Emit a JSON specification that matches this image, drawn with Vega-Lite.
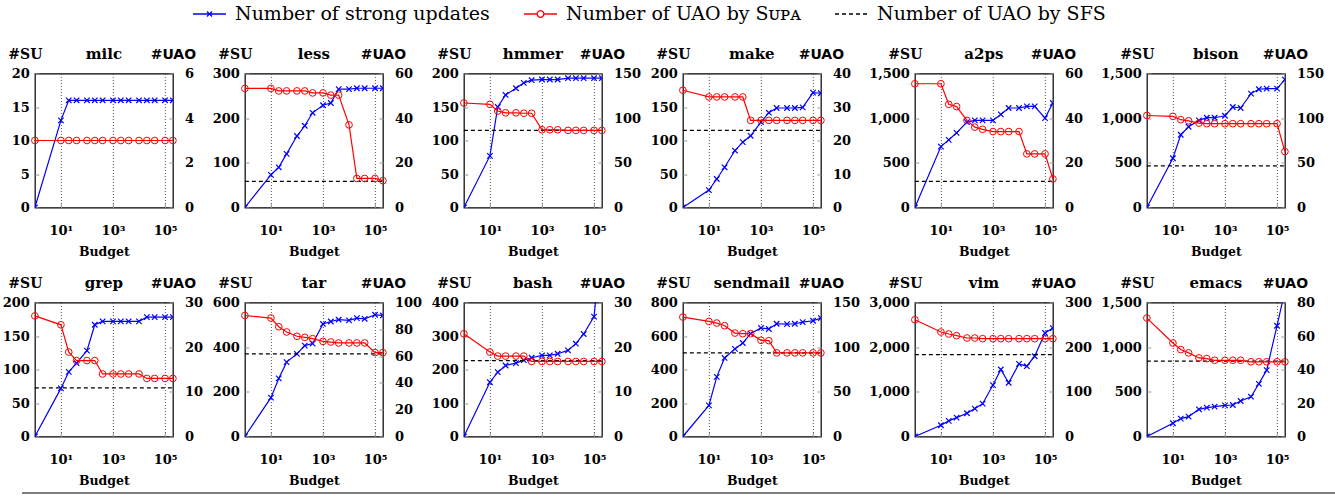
{
"$schema":"https://vega.github.io/schema/vega-lite/v6.json",
"padding":{"left":1,"top":3,"right":0,"bottom":0},
"datasets":{"d":[
{"b":"milc","x":1,"su":0,"u":3,"f":3},{"b":"milc","x":10,"su":13,"u":3,"f":3},{"b":"milc","x":20,"su":16,"u":3,"f":3},{"b":"milc","x":40,"su":16,"u":3,"f":3},{"b":"milc","x":100,"su":16,"u":3,"f":3},{"b":"milc","x":200,"su":16,"u":3,"f":3},{"b":"milc","x":400,"su":16,"u":3,"f":3},{"b":"milc","x":1000,"su":16,"u":3,"f":3},{"b":"milc","x":2000,"su":16,"u":3,"f":3},{"b":"milc","x":4000,"su":16,"u":3,"f":3},{"b":"milc","x":10000,"su":16,"u":3,"f":3},{"b":"milc","x":20000,"su":16,"u":3,"f":3},{"b":"milc","x":40000,"su":16,"u":3,"f":3},{"b":"milc","x":100000,"su":16,"u":3,"f":3},{"b":"milc","x":200000,"su":16,"u":3,"f":3},
{"b":"less","x":1,"su":0,"u":53.3,"f":11.7},{"b":"less","x":10,"su":73,"u":53.3,"f":11.7},{"b":"less","x":20,"su":90,"u":52.2,"f":11.7},{"b":"less","x":40,"su":120,"u":52.2,"f":11.7},{"b":"less","x":100,"su":160,"u":52.2,"f":11.7},{"b":"less","x":200,"su":183,"u":52.2,"f":11.7},{"b":"less","x":400,"su":212,"u":51.3,"f":11.7},{"b":"less","x":1000,"su":229,"u":51.3,"f":11.7},{"b":"less","x":2000,"su":234,"u":50.3,"f":11.7},{"b":"less","x":4000,"su":265,"u":50.3,"f":11.7},{"b":"less","x":10000,"su":265,"u":37,"f":11.7},{"b":"less","x":20000,"su":267,"u":13,"f":11.7},{"b":"less","x":40000,"su":267,"u":13,"f":11.7},{"b":"less","x":100000,"su":267,"u":13,"f":11.7},{"b":"less","x":200000,"su":267,"u":12,"f":11.7},
{"b":"hmmer","x":1,"su":0,"u":117,"f":86.3},{"b":"hmmer","x":10,"su":77,"u":115.5,"f":86.3},{"b":"hmmer","x":20,"su":150,"u":108,"f":86.3},{"b":"hmmer","x":40,"su":168,"u":106,"f":86.3},{"b":"hmmer","x":100,"su":178,"u":106,"f":86.3},{"b":"hmmer","x":200,"su":186,"u":105.5,"f":86.3},{"b":"hmmer","x":400,"su":190,"u":105.5,"f":86.3},{"b":"hmmer","x":1000,"su":191,"u":87,"f":86.3},{"b":"hmmer","x":2000,"su":191,"u":87,"f":86.3},{"b":"hmmer","x":4000,"su":191,"u":87,"f":86.3},{"b":"hmmer","x":10000,"su":193,"u":86.3,"f":86.3},{"b":"hmmer","x":20000,"su":193,"u":86.3,"f":86.3},{"b":"hmmer","x":40000,"su":193,"u":86.3,"f":86.3},{"b":"hmmer","x":100000,"su":193,"u":86.3,"f":86.3},{"b":"hmmer","x":200000,"su":193,"u":86.3,"f":86.3},
{"b":"make","x":1,"su":0,"u":35,"f":23},{"b":"make","x":10,"su":26,"u":33,"f":23},{"b":"make","x":20,"su":42.5,"u":33,"f":23},{"b":"make","x":40,"su":60,"u":33,"f":23},{"b":"make","x":100,"su":85,"u":33,"f":23},{"b":"make","x":200,"su":97.5,"u":33,"f":23},{"b":"make","x":400,"su":107,"u":26,"f":23},{"b":"make","x":1000,"su":127.5,"u":26,"f":23},{"b":"make","x":2000,"su":141.5,"u":26,"f":23},{"b":"make","x":4000,"su":148.5,"u":26,"f":23},{"b":"make","x":10000,"su":148.5,"u":26,"f":23},{"b":"make","x":20000,"su":148.5,"u":26,"f":23},{"b":"make","x":40000,"su":149.5,"u":26,"f":23},{"b":"make","x":100000,"su":171.5,"u":26,"f":23},{"b":"make","x":200000,"su":170.5,"u":26,"f":23},
{"b":"a2ps","x":1,"su":0,"u":55.4,"f":11.7},{"b":"a2ps","x":10,"su":682,"u":55.4,"f":11.7},{"b":"a2ps","x":20,"su":757,"u":46.2,"f":11.7},{"b":"a2ps","x":40,"su":836,"u":45.2,"f":11.7},{"b":"a2ps","x":100,"su":956,"u":39,"f":11.7},{"b":"a2ps","x":200,"su":975,"u":36,"f":11.7},{"b":"a2ps","x":400,"su":975,"u":35,"f":11.7},{"b":"a2ps","x":1000,"su":975,"u":34,"f":11.7},{"b":"a2ps","x":2000,"su":1042,"u":34,"f":11.7},{"b":"a2ps","x":4000,"su":1114,"u":34,"f":11.7},{"b":"a2ps","x":10000,"su":1114,"u":34,"f":11.7},{"b":"a2ps","x":20000,"su":1132,"u":24,"f":11.7},{"b":"a2ps","x":40000,"su":1132,"u":24,"f":11.7},{"b":"a2ps","x":100000,"su":1001,"u":24,"f":11.7},{"b":"a2ps","x":200000,"su":1170,"u":12.8,"f":11.7},
{"b":"bison","x":1,"su":0,"u":103,"f":46.5},{"b":"bison","x":10,"su":551,"u":102,"f":46.5},{"b":"bison","x":20,"su":814,"u":98.3,"f":46.5},{"b":"bison","x":40,"su":904,"u":97,"f":46.5},{"b":"bison","x":100,"su":975,"u":94.5,"f":46.5},{"b":"bison","x":200,"su":1005,"u":93.8,"f":46.5},{"b":"bison","x":400,"su":1005,"u":93.8,"f":46.5},{"b":"bison","x":1000,"su":1027,"u":93.8,"f":46.5},{"b":"bison","x":2000,"su":1125,"u":93.8,"f":46.5},{"b":"bison","x":4000,"su":1114,"u":93.8,"f":46.5},{"b":"bison","x":10000,"su":1275,"u":93.8,"f":46.5},{"b":"bison","x":20000,"su":1324,"u":93.8,"f":46.5},{"b":"bison","x":40000,"su":1331,"u":93.8,"f":46.5},{"b":"bison","x":100000,"su":1331,"u":93.8,"f":46.5},{"b":"bison","x":200000,"su":1432,"u":62.6,"f":46.5},
{"b":"grep","x":1,"su":0,"u":27,"f":10.9},{"b":"grep","x":10,"su":71.8,"u":25,"f":10.9},{"b":"grep","x":20,"su":96.5,"u":18.9,"f":10.9},{"b":"grep","x":40,"su":109.4,"u":17,"f":10.9},{"b":"grep","x":100,"su":128.2,"u":17,"f":10.9},{"b":"grep","x":200,"su":166.8,"u":17,"f":10.9},{"b":"grep","x":400,"su":171.8,"u":14,"f":10.9},{"b":"grep","x":1000,"su":171.8,"u":14,"f":10.9},{"b":"grep","x":2000,"su":171.8,"u":14,"f":10.9},{"b":"grep","x":4000,"su":171.8,"u":14,"f":10.9},{"b":"grep","x":10000,"su":171.8,"u":14,"f":10.9},{"b":"grep","x":20000,"su":178.2,"u":13,"f":10.9},{"b":"grep","x":40000,"su":178.2,"u":13,"f":10.9},{"b":"grep","x":100000,"su":178.2,"u":13,"f":10.9},{"b":"grep","x":200000,"su":178.2,"u":13,"f":10.9},
{"b":"tar","x":1,"su":0,"u":90.3,"f":61.6},{"b":"tar","x":10,"su":174,"u":88.4,"f":61.6},{"b":"tar","x":20,"su":260,"u":81.9,"f":61.6},{"b":"tar","x":40,"su":333,"u":78,"f":61.6},{"b":"tar","x":100,"su":370,"u":74.8,"f":61.6},{"b":"tar","x":200,"su":407,"u":74,"f":61.6},{"b":"tar","x":400,"su":416,"u":73,"f":61.6},{"b":"tar","x":1000,"su":504,"u":71,"f":61.6},{"b":"tar","x":2000,"su":515,"u":70.5,"f":61.6},{"b":"tar","x":4000,"su":523,"u":69.8,"f":61.6},{"b":"tar","x":10000,"su":520,"u":69.8,"f":61.6},{"b":"tar","x":20000,"su":530,"u":69.8,"f":61.6},{"b":"tar","x":40000,"su":527,"u":69.8,"f":61.6},{"b":"tar","x":100000,"su":545,"u":62.6,"f":61.6},{"b":"tar","x":200000,"su":542,"u":62.6,"f":61.6},
{"b":"bash","x":1,"su":0,"u":23,"f":17},{"b":"bash","x":10,"su":162,"u":18.9,"f":17},{"b":"bash","x":20,"su":192,"u":18,"f":17},{"b":"bash","x":40,"su":212,"u":18,"f":17},{"b":"bash","x":100,"su":219,"u":18,"f":17},{"b":"bash","x":200,"su":228,"u":18,"f":17},{"b":"bash","x":400,"su":235,"u":16.8,"f":17},{"b":"bash","x":1000,"su":242,"u":16.8,"f":17},{"b":"bash","x":2000,"su":242,"u":16.8,"f":17},{"b":"bash","x":4000,"su":247,"u":16.8,"f":17},{"b":"bash","x":10000,"su":257,"u":16.8,"f":17},{"b":"bash","x":20000,"su":277,"u":16.8,"f":17},{"b":"bash","x":40000,"su":306,"u":16.8,"f":17},{"b":"bash","x":100000,"su":358,"u":16.8,"f":17},{"b":"bash","x":200000,"su":590,"u":16.8,"f":17},
{"b":"sendmail","x":1,"su":0,"u":133.7,"f":93.6},{"b":"sendmail","x":10,"su":186,"u":128.8,"f":93.6},{"b":"sendmail","x":20,"su":356,"u":127,"f":93.6},{"b":"sendmail","x":40,"su":469,"u":124,"f":93.6},{"b":"sendmail","x":100,"su":523,"u":115.8,"f":93.6},{"b":"sendmail","x":200,"su":558,"u":115.1,"f":93.6},{"b":"sendmail","x":400,"su":614,"u":115.1,"f":93.6},{"b":"sendmail","x":1000,"su":648,"u":107.7,"f":93.6},{"b":"sendmail","x":2000,"su":642,"u":107.3,"f":93.6},{"b":"sendmail","x":4000,"su":673,"u":93.6,"f":93.6},{"b":"sendmail","x":10000,"su":671,"u":93.6,"f":93.6},{"b":"sendmail","x":20000,"su":673,"u":93.6,"f":93.6},{"b":"sendmail","x":40000,"su":683,"u":93.6,"f":93.6},{"b":"sendmail","x":100000,"su":691,"u":93.6,"f":93.6},{"b":"sendmail","x":200000,"su":707,"u":93.6,"f":93.6},
{"b":"vim","x":1,"su":0,"u":261.4,"f":183.4},{"b":"vim","x":10,"su":252,"u":233.9,"f":183.4},{"b":"vim","x":20,"su":349,"u":229.5,"f":183.4},{"b":"vim","x":40,"su":423,"u":225.7,"f":183.4},{"b":"vim","x":100,"su":520,"u":220.5,"f":183.4},{"b":"vim","x":200,"su":624,"u":220.5,"f":183.4},{"b":"vim","x":400,"su":735,"u":219,"f":183.4},{"b":"vim","x":1000,"su":1151,"u":219,"f":183.4},{"b":"vim","x":2000,"su":1500,"u":219,"f":183.4},{"b":"vim","x":4000,"su":1203,"u":219,"f":183.4},{"b":"vim","x":10000,"su":1626,"u":219,"f":183.4},{"b":"vim","x":20000,"su":1574,"u":219,"f":183.4},{"b":"vim","x":40000,"su":1797,"u":219,"f":183.4},{"b":"vim","x":100000,"su":2317,"u":219,"f":183.4},{"b":"vim","x":200000,"su":2428,"u":219,"f":183.4},
{"b":"emacs","x":1,"su":0,"u":70.7,"f":45},{"b":"emacs","x":10,"su":148.5,"u":55.8,"f":45},{"b":"emacs","x":20,"su":200.5,"u":51.9,"f":45},{"b":"emacs","x":40,"su":222.8,"u":49.9,"f":45},{"b":"emacs","x":100,"su":304.5,"u":46.9,"f":45},{"b":"emacs","x":200,"su":323,"u":46.5,"f":45},{"b":"emacs","x":400,"su":334,"u":45.5,"f":45},{"b":"emacs","x":1000,"su":349,"u":45.5,"f":45},{"b":"emacs","x":2000,"su":352.7,"u":45.5,"f":45},{"b":"emacs","x":4000,"su":397.3,"u":45.5,"f":45},{"b":"emacs","x":10000,"su":445.5,"u":44.6,"f":45},{"b":"emacs","x":20000,"su":590,"u":44.6,"f":45},{"b":"emacs","x":40000,"su":742.6,"u":44.6,"f":45},{"b":"emacs","x":100000,"su":1240,"u":44.6,"f":45},{"b":"emacs","x":200000,"su":1630,"u":44.6,"f":45}
]},
"data":{"name":"d"},
"config":{
"numberFormat":",.0f",
"view":{"stroke":"#000000","strokeWidth":1.2},
"axis":{"labelFont":"DejaVu Serif","labelFontWeight":"bold","labelFontSize":13,"labelColor":"#000000","domain":false,"ticks":true,"tickSize":-4,"tickColor":"#999999","titleFont":"DejaVu Serif","titleFontWeight":"bold","titleColor":"#000000","labelFlush":false,"labelOverlap":false},
"axisX":{"grid":true,"gridDash":[1,2],"gridColor":"#555555","gridWidth":1,"labelPadding":31,"labelBaseline":"alphabetic","titleFontSize":12.5,"titleX":69,"titleY":48,"titleBaseline":"alphabetic","titleAlign":"center"},
"axisY":{"grid":false,"titleAngle":0,"titleAlign":"center","titleBaseline":"alphabetic","titleY":-15,"titleFontSize":14},
"axisLeft":{"labelPadding":9.5,"titleX":-10},
"axisRight":{"labelPadding":15.5,"titleX":0,"titleFont":"DejaVu Sans"},
"title":{"font":"DejaVu Serif","fontSize":15,"fontWeight":"bold","baseline":"alphabetic","offset":-14,"frame":"group","anchor":"middle","color":"#000000"}
},
"spacing":4.5,
"center":true,
"vconcat":[
{"spacing":21.5,"center":false,"vconcat":[
{"width":1,"height":21,"view":{"stroke":null},
"data":{"values":[{"s":"Number of strong updates"},{"s":"Number of UAO by Sᴜᴘᴀ"},{"s":"Number of UAO by SFS"}]},
"mark":{"type":"point","filled":false,"opacity":0},
"encoding":{
"stroke":{"field":"s","type":"nominal","scale":{"domain":["Number of strong updates","Number of UAO by Sᴜᴘᴀ","Number of UAO by SFS"],"range":["#0000ff","#ff0000","#000000"]},
"legend":{"orient":"none","legendX":176.5,"legendY":0,"direction":"horizontal","title":null,"padding":0,"symbolSize":400,"symbolStrokeWidth":1.3,"symbolOpacity":1,"labelFont":"DejaVu Serif","labelFontSize":19,"labelFontWeight":"normal","labelColor":"#000000","labelOffset":14.5,"columnPadding":30,"labelLimit":500,"encode":{"symbols":{"update":{"opacity":{"value":1},"fill":{"value":"transparent"}}}}}},
"shape":{"field":"s","type":"nominal","scale":{"domain":["Number of strong updates","Number of UAO by Sᴜᴘᴀ","Number of UAO by SFS"],"range":["M-1.65,0L1.65,0M-0.25,-0.25L0.25,0.25M-0.25,0.25L0.25,-0.25","M-1.65,0L-0.33,0M0.33,0L1.65,0M0.33,0A0.33,0.33 0 1,1 -0.33,0A0.33,0.33 0 1,1 0.33,0","M-1.65,0L1.65,0"]},
"legend":{"orient":"none","legendX":176.5,"legendY":0,"direction":"horizontal","title":null,"padding":0,"symbolSize":400,"symbolStrokeWidth":1.3,"symbolOpacity":1,"labelFont":"DejaVu Serif","labelFontSize":19,"labelFontWeight":"normal","labelColor":"#000000","labelOffset":14.5,"columnPadding":30,"labelLimit":500}},
"strokeDash":{"field":"s","type":"nominal","scale":{"domain":["Number of strong updates","Number of UAO by Sᴜᴘᴀ","Number of UAO by SFS"],"range":[[1,0],[1,0],[4,3]]},
"legend":{"orient":"none","legendX":176.5,"legendY":0,"direction":"horizontal","title":null,"padding":0,"symbolSize":400,"symbolStrokeWidth":1.3,"symbolOpacity":1,"labelFont":"DejaVu Serif","labelFontSize":19,"labelFontWeight":"normal","labelColor":"#000000","labelOffset":14.5,"columnPadding":30,"labelLimit":500}}
}},
{"columns":6,"align":"each","bounds":"full","center":false,"spacing":{"row":15,"column":7},"concat":[
{"title":"milc","width":138,"height":134,"transform":[{"filter":"datum.b=='milc'"}],"encoding":{"x":{"field":"x","type":"quantitative","scale":{"type":"log","domain":[1,200000],"nice":false},"axis":{"values":[10,1000,100000],"labelExpr":"datum.value==10?'10¹':datum.value==1000?'10³':'10⁵'","title":"Budget"}}},"layer":[{"encoding":{"y":{"field":"su","type":"quantitative","scale":{"domain":[0,20],"nice":false},"axis":{"orient":"left","title":"#SU","values":[0,5,10,15,20]}}},"layer":[{"mark":{"type":"line","color":"#0000ff","strokeWidth":1.2,"clip":true}},{"mark":{"type":"point","shape":"M-1,-1L1,1M-1,1L1,-1","filled":false,"color":"#0000ff","strokeWidth":1.2,"size":30,"opacity":1,"clip":true}}]},{"encoding":{"y":{"field":"u","type":"quantitative","scale":{"domain":[0,6],"nice":false},"axis":{"orient":"right","title":"#UAO","values":[0,2,4,6]}}},"layer":[{"mark":{"type":"line","color":"#000000","strokeDash":[4,3],"strokeWidth":1.2},"encoding":{"y":{"field":"f","type":"quantitative","scale":{"domain":[0,6],"nice":false},"axis":{"orient":"right","title":"#UAO","values":[0,2,4,6]}}}},{"mark":{"type":"line","color":"#ff0000","strokeWidth":1.2}},{"mark":{"type":"point","shape":"circle","filled":false,"color":"#ff0000","strokeWidth":1,"size":45,"opacity":1}}]}],"resolve":{"scale":{"y":"independent"}}},
{"title":"less","width":138,"height":134,"transform":[{"filter":"datum.b=='less'"}],"encoding":{"x":{"field":"x","type":"quantitative","scale":{"type":"log","domain":[1,200000],"nice":false},"axis":{"values":[10,1000,100000],"labelExpr":"datum.value==10?'10¹':datum.value==1000?'10³':'10⁵'","title":"Budget"}}},"layer":[{"encoding":{"y":{"field":"su","type":"quantitative","scale":{"domain":[0,300],"nice":false},"axis":{"orient":"left","title":"#SU","values":[0,100,200,300]}}},"layer":[{"mark":{"type":"line","color":"#0000ff","strokeWidth":1.2,"clip":true}},{"mark":{"type":"point","shape":"M-1,-1L1,1M-1,1L1,-1","filled":false,"color":"#0000ff","strokeWidth":1.2,"size":30,"opacity":1,"clip":true}}]},{"encoding":{"y":{"field":"u","type":"quantitative","scale":{"domain":[0,60],"nice":false},"axis":{"orient":"right","title":"#UAO","values":[0,20,40,60]}}},"layer":[{"mark":{"type":"line","color":"#000000","strokeDash":[4,3],"strokeWidth":1.2},"encoding":{"y":{"field":"f","type":"quantitative","scale":{"domain":[0,60],"nice":false},"axis":{"orient":"right","title":"#UAO","values":[0,20,40,60]}}}},{"mark":{"type":"line","color":"#ff0000","strokeWidth":1.2}},{"mark":{"type":"point","shape":"circle","filled":false,"color":"#ff0000","strokeWidth":1,"size":45,"opacity":1}}]}],"resolve":{"scale":{"y":"independent"}}},
{"title":"hmmer","width":138,"height":134,"transform":[{"filter":"datum.b=='hmmer'"}],"encoding":{"x":{"field":"x","type":"quantitative","scale":{"type":"log","domain":[1,200000],"nice":false},"axis":{"values":[10,1000,100000],"labelExpr":"datum.value==10?'10¹':datum.value==1000?'10³':'10⁵'","title":"Budget"}}},"layer":[{"encoding":{"y":{"field":"su","type":"quantitative","scale":{"domain":[0,200],"nice":false},"axis":{"orient":"left","title":"#SU","values":[0,50,100,150,200]}}},"layer":[{"mark":{"type":"line","color":"#0000ff","strokeWidth":1.2,"clip":true}},{"mark":{"type":"point","shape":"M-1,-1L1,1M-1,1L1,-1","filled":false,"color":"#0000ff","strokeWidth":1.2,"size":30,"opacity":1,"clip":true}}]},{"encoding":{"y":{"field":"u","type":"quantitative","scale":{"domain":[0,150],"nice":false},"axis":{"orient":"right","title":"#UAO","values":[0,50,100,150]}}},"layer":[{"mark":{"type":"line","color":"#000000","strokeDash":[4,3],"strokeWidth":1.2},"encoding":{"y":{"field":"f","type":"quantitative","scale":{"domain":[0,150],"nice":false},"axis":{"orient":"right","title":"#UAO","values":[0,50,100,150]}}}},{"mark":{"type":"line","color":"#ff0000","strokeWidth":1.2}},{"mark":{"type":"point","shape":"circle","filled":false,"color":"#ff0000","strokeWidth":1,"size":45,"opacity":1}}]}],"resolve":{"scale":{"y":"independent"}}},
{"title":"make","width":138,"height":134,"transform":[{"filter":"datum.b=='make'"}],"encoding":{"x":{"field":"x","type":"quantitative","scale":{"type":"log","domain":[1,200000],"nice":false},"axis":{"values":[10,1000,100000],"labelExpr":"datum.value==10?'10¹':datum.value==1000?'10³':'10⁵'","title":"Budget"}}},"layer":[{"encoding":{"y":{"field":"su","type":"quantitative","scale":{"domain":[0,200],"nice":false},"axis":{"orient":"left","title":"#SU","values":[0,50,100,150,200]}}},"layer":[{"mark":{"type":"line","color":"#0000ff","strokeWidth":1.2,"clip":true}},{"mark":{"type":"point","shape":"M-1,-1L1,1M-1,1L1,-1","filled":false,"color":"#0000ff","strokeWidth":1.2,"size":30,"opacity":1,"clip":true}}]},{"encoding":{"y":{"field":"u","type":"quantitative","scale":{"domain":[0,40],"nice":false},"axis":{"orient":"right","title":"#UAO","values":[0,10,20,30,40]}}},"layer":[{"mark":{"type":"line","color":"#000000","strokeDash":[4,3],"strokeWidth":1.2},"encoding":{"y":{"field":"f","type":"quantitative","scale":{"domain":[0,40],"nice":false},"axis":{"orient":"right","title":"#UAO","values":[0,10,20,30,40]}}}},{"mark":{"type":"line","color":"#ff0000","strokeWidth":1.2}},{"mark":{"type":"point","shape":"circle","filled":false,"color":"#ff0000","strokeWidth":1,"size":45,"opacity":1}}]}],"resolve":{"scale":{"y":"independent"}}},
{"title":"a2ps","width":138,"height":134,"transform":[{"filter":"datum.b=='a2ps'"}],"encoding":{"x":{"field":"x","type":"quantitative","scale":{"type":"log","domain":[1,200000],"nice":false},"axis":{"values":[10,1000,100000],"labelExpr":"datum.value==10?'10¹':datum.value==1000?'10³':'10⁵'","title":"Budget"}}},"layer":[{"encoding":{"y":{"field":"su","type":"quantitative","scale":{"domain":[0,1500],"nice":false},"axis":{"orient":"left","title":"#SU","values":[0,500,1000,1500]}}},"layer":[{"mark":{"type":"line","color":"#0000ff","strokeWidth":1.2,"clip":true}},{"mark":{"type":"point","shape":"M-1,-1L1,1M-1,1L1,-1","filled":false,"color":"#0000ff","strokeWidth":1.2,"size":30,"opacity":1,"clip":true}}]},{"encoding":{"y":{"field":"u","type":"quantitative","scale":{"domain":[0,60],"nice":false},"axis":{"orient":"right","title":"#UAO","values":[0,20,40,60]}}},"layer":[{"mark":{"type":"line","color":"#000000","strokeDash":[4,3],"strokeWidth":1.2},"encoding":{"y":{"field":"f","type":"quantitative","scale":{"domain":[0,60],"nice":false},"axis":{"orient":"right","title":"#UAO","values":[0,20,40,60]}}}},{"mark":{"type":"line","color":"#ff0000","strokeWidth":1.2}},{"mark":{"type":"point","shape":"circle","filled":false,"color":"#ff0000","strokeWidth":1,"size":45,"opacity":1}}]}],"resolve":{"scale":{"y":"independent"}}},
{"title":"bison","width":138,"height":134,"transform":[{"filter":"datum.b=='bison'"}],"encoding":{"x":{"field":"x","type":"quantitative","scale":{"type":"log","domain":[1,200000],"nice":false},"axis":{"values":[10,1000,100000],"labelExpr":"datum.value==10?'10¹':datum.value==1000?'10³':'10⁵'","title":"Budget"}}},"layer":[{"encoding":{"y":{"field":"su","type":"quantitative","scale":{"domain":[0,1500],"nice":false},"axis":{"orient":"left","title":"#SU","values":[0,500,1000,1500]}}},"layer":[{"mark":{"type":"line","color":"#0000ff","strokeWidth":1.2,"clip":true}},{"mark":{"type":"point","shape":"M-1,-1L1,1M-1,1L1,-1","filled":false,"color":"#0000ff","strokeWidth":1.2,"size":30,"opacity":1,"clip":true}}]},{"encoding":{"y":{"field":"u","type":"quantitative","scale":{"domain":[0,150],"nice":false},"axis":{"orient":"right","title":"#UAO","values":[0,50,100,150]}}},"layer":[{"mark":{"type":"line","color":"#000000","strokeDash":[4,3],"strokeWidth":1.2},"encoding":{"y":{"field":"f","type":"quantitative","scale":{"domain":[0,150],"nice":false},"axis":{"orient":"right","title":"#UAO","values":[0,50,100,150]}}}},{"mark":{"type":"line","color":"#ff0000","strokeWidth":1.2}},{"mark":{"type":"point","shape":"circle","filled":false,"color":"#ff0000","strokeWidth":1,"size":45,"opacity":1}}]}],"resolve":{"scale":{"y":"independent"}}},
{"title":"grep","width":138,"height":134,"transform":[{"filter":"datum.b=='grep'"}],"encoding":{"x":{"field":"x","type":"quantitative","scale":{"type":"log","domain":[1,200000],"nice":false},"axis":{"values":[10,1000,100000],"labelExpr":"datum.value==10?'10¹':datum.value==1000?'10³':'10⁵'","title":"Budget"}}},"layer":[{"encoding":{"y":{"field":"su","type":"quantitative","scale":{"domain":[0,200],"nice":false},"axis":{"orient":"left","title":"#SU","values":[0,50,100,150,200]}}},"layer":[{"mark":{"type":"line","color":"#0000ff","strokeWidth":1.2,"clip":true}},{"mark":{"type":"point","shape":"M-1,-1L1,1M-1,1L1,-1","filled":false,"color":"#0000ff","strokeWidth":1.2,"size":30,"opacity":1,"clip":true}}]},{"encoding":{"y":{"field":"u","type":"quantitative","scale":{"domain":[0,30],"nice":false},"axis":{"orient":"right","title":"#UAO","values":[0,10,20,30]}}},"layer":[{"mark":{"type":"line","color":"#000000","strokeDash":[4,3],"strokeWidth":1.2},"encoding":{"y":{"field":"f","type":"quantitative","scale":{"domain":[0,30],"nice":false},"axis":{"orient":"right","title":"#UAO","values":[0,10,20,30]}}}},{"mark":{"type":"line","color":"#ff0000","strokeWidth":1.2}},{"mark":{"type":"point","shape":"circle","filled":false,"color":"#ff0000","strokeWidth":1,"size":45,"opacity":1}}]}],"resolve":{"scale":{"y":"independent"}}},
{"title":"tar","width":138,"height":134,"transform":[{"filter":"datum.b=='tar'"}],"encoding":{"x":{"field":"x","type":"quantitative","scale":{"type":"log","domain":[1,200000],"nice":false},"axis":{"values":[10,1000,100000],"labelExpr":"datum.value==10?'10¹':datum.value==1000?'10³':'10⁵'","title":"Budget"}}},"layer":[{"encoding":{"y":{"field":"su","type":"quantitative","scale":{"domain":[0,600],"nice":false},"axis":{"orient":"left","title":"#SU","values":[0,200,400,600]}}},"layer":[{"mark":{"type":"line","color":"#0000ff","strokeWidth":1.2,"clip":true}},{"mark":{"type":"point","shape":"M-1,-1L1,1M-1,1L1,-1","filled":false,"color":"#0000ff","strokeWidth":1.2,"size":30,"opacity":1,"clip":true}}]},{"encoding":{"y":{"field":"u","type":"quantitative","scale":{"domain":[0,100],"nice":false},"axis":{"orient":"right","title":"#UAO","values":[0,20,40,60,80,100]}}},"layer":[{"mark":{"type":"line","color":"#000000","strokeDash":[4,3],"strokeWidth":1.2},"encoding":{"y":{"field":"f","type":"quantitative","scale":{"domain":[0,100],"nice":false},"axis":{"orient":"right","title":"#UAO","values":[0,20,40,60,80,100]}}}},{"mark":{"type":"line","color":"#ff0000","strokeWidth":1.2}},{"mark":{"type":"point","shape":"circle","filled":false,"color":"#ff0000","strokeWidth":1,"size":45,"opacity":1}}]}],"resolve":{"scale":{"y":"independent"}}},
{"title":"bash","width":138,"height":134,"transform":[{"filter":"datum.b=='bash'"}],"encoding":{"x":{"field":"x","type":"quantitative","scale":{"type":"log","domain":[1,200000],"nice":false},"axis":{"values":[10,1000,100000],"labelExpr":"datum.value==10?'10¹':datum.value==1000?'10³':'10⁵'","title":"Budget"}}},"layer":[{"encoding":{"y":{"field":"su","type":"quantitative","scale":{"domain":[0,400],"nice":false},"axis":{"orient":"left","title":"#SU","values":[0,100,200,300,400]}}},"layer":[{"mark":{"type":"line","color":"#0000ff","strokeWidth":1.2,"clip":true}},{"mark":{"type":"point","shape":"M-1,-1L1,1M-1,1L1,-1","filled":false,"color":"#0000ff","strokeWidth":1.2,"size":30,"opacity":1,"clip":true}}]},{"encoding":{"y":{"field":"u","type":"quantitative","scale":{"domain":[0,30],"nice":false},"axis":{"orient":"right","title":"#UAO","values":[0,10,20,30]}}},"layer":[{"mark":{"type":"line","color":"#000000","strokeDash":[4,3],"strokeWidth":1.2},"encoding":{"y":{"field":"f","type":"quantitative","scale":{"domain":[0,30],"nice":false},"axis":{"orient":"right","title":"#UAO","values":[0,10,20,30]}}}},{"mark":{"type":"line","color":"#ff0000","strokeWidth":1.2}},{"mark":{"type":"point","shape":"circle","filled":false,"color":"#ff0000","strokeWidth":1,"size":45,"opacity":1}}]}],"resolve":{"scale":{"y":"independent"}}},
{"title":"sendmail","width":138,"height":134,"transform":[{"filter":"datum.b=='sendmail'"}],"encoding":{"x":{"field":"x","type":"quantitative","scale":{"type":"log","domain":[1,200000],"nice":false},"axis":{"values":[10,1000,100000],"labelExpr":"datum.value==10?'10¹':datum.value==1000?'10³':'10⁵'","title":"Budget"}}},"layer":[{"encoding":{"y":{"field":"su","type":"quantitative","scale":{"domain":[0,800],"nice":false},"axis":{"orient":"left","title":"#SU","values":[0,200,400,600,800]}}},"layer":[{"mark":{"type":"line","color":"#0000ff","strokeWidth":1.2,"clip":true}},{"mark":{"type":"point","shape":"M-1,-1L1,1M-1,1L1,-1","filled":false,"color":"#0000ff","strokeWidth":1.2,"size":30,"opacity":1,"clip":true}}]},{"encoding":{"y":{"field":"u","type":"quantitative","scale":{"domain":[0,150],"nice":false},"axis":{"orient":"right","title":"#UAO","values":[0,50,100,150]}}},"layer":[{"mark":{"type":"line","color":"#000000","strokeDash":[4,3],"strokeWidth":1.2},"encoding":{"y":{"field":"f","type":"quantitative","scale":{"domain":[0,150],"nice":false},"axis":{"orient":"right","title":"#UAO","values":[0,50,100,150]}}}},{"mark":{"type":"line","color":"#ff0000","strokeWidth":1.2}},{"mark":{"type":"point","shape":"circle","filled":false,"color":"#ff0000","strokeWidth":1,"size":45,"opacity":1}}]}],"resolve":{"scale":{"y":"independent"}}},
{"title":"vim","width":138,"height":134,"transform":[{"filter":"datum.b=='vim'"}],"encoding":{"x":{"field":"x","type":"quantitative","scale":{"type":"log","domain":[1,200000],"nice":false},"axis":{"values":[10,1000,100000],"labelExpr":"datum.value==10?'10¹':datum.value==1000?'10³':'10⁵'","title":"Budget"}}},"layer":[{"encoding":{"y":{"field":"su","type":"quantitative","scale":{"domain":[0,3000],"nice":false},"axis":{"orient":"left","title":"#SU","values":[0,1000,2000,3000]}}},"layer":[{"mark":{"type":"line","color":"#0000ff","strokeWidth":1.2,"clip":true}},{"mark":{"type":"point","shape":"M-1,-1L1,1M-1,1L1,-1","filled":false,"color":"#0000ff","strokeWidth":1.2,"size":30,"opacity":1,"clip":true}}]},{"encoding":{"y":{"field":"u","type":"quantitative","scale":{"domain":[0,300],"nice":false},"axis":{"orient":"right","title":"#UAO","values":[0,100,200,300]}}},"layer":[{"mark":{"type":"line","color":"#000000","strokeDash":[4,3],"strokeWidth":1.2},"encoding":{"y":{"field":"f","type":"quantitative","scale":{"domain":[0,300],"nice":false},"axis":{"orient":"right","title":"#UAO","values":[0,100,200,300]}}}},{"mark":{"type":"line","color":"#ff0000","strokeWidth":1.2}},{"mark":{"type":"point","shape":"circle","filled":false,"color":"#ff0000","strokeWidth":1,"size":45,"opacity":1}}]}],"resolve":{"scale":{"y":"independent"}}},
{"title":"emacs","width":138,"height":134,"transform":[{"filter":"datum.b=='emacs'"}],"encoding":{"x":{"field":"x","type":"quantitative","scale":{"type":"log","domain":[1,200000],"nice":false},"axis":{"values":[10,1000,100000],"labelExpr":"datum.value==10?'10¹':datum.value==1000?'10³':'10⁵'","title":"Budget"}}},"layer":[{"encoding":{"y":{"field":"su","type":"quantitative","scale":{"domain":[0,1500],"nice":false},"axis":{"orient":"left","title":"#SU","values":[0,500,1000,1500]}}},"layer":[{"mark":{"type":"line","color":"#0000ff","strokeWidth":1.2,"clip":true}},{"mark":{"type":"point","shape":"M-1,-1L1,1M-1,1L1,-1","filled":false,"color":"#0000ff","strokeWidth":1.2,"size":30,"opacity":1,"clip":true}}]},{"encoding":{"y":{"field":"u","type":"quantitative","scale":{"domain":[0,80],"nice":false},"axis":{"orient":"right","title":"#UAO","values":[0,20,40,60,80]}}},"layer":[{"mark":{"type":"line","color":"#000000","strokeDash":[4,3],"strokeWidth":1.2},"encoding":{"y":{"field":"f","type":"quantitative","scale":{"domain":[0,80],"nice":false},"axis":{"orient":"right","title":"#UAO","values":[0,20,40,60,80]}}}},{"mark":{"type":"line","color":"#ff0000","strokeWidth":1.2}},{"mark":{"type":"point","shape":"circle","filled":false,"color":"#ff0000","strokeWidth":1,"size":45,"opacity":1}}]}],"resolve":{"scale":{"y":"independent"}}}
]}
]},
{"width":1315,"height":1,"view":{"fill":"#000000","stroke":null},"data":{"values":[{}]},"mark":{"type":"point","size":0,"opacity":0}}
]
}
